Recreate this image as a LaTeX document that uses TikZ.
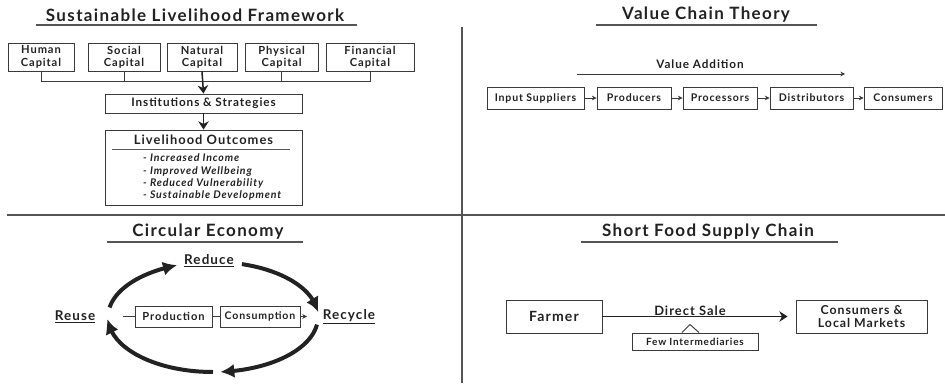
\documentclass[tikz,border=0pt]{standalone}
\usepackage{fontspec}
\setmainfont{Lato}[LetterSpace=8]
\usetikzlibrary{arrows.meta, positioning, calc, bending}
\definecolor{frameInk}{HTML}{222222}
\definecolor{frameLine}{HTML}{3A3A3A}
\definecolor{frameRule}{HTML}{555555}

\begin{document}
\begin{tikzpicture}[
  >=Stealth,
  font=\fontsize{9}{10}\selectfont\bfseries,
  text=frameInk,
  box/.style={draw=frameLine, line width=0.8pt, align=center, inner sep=1pt},
  connector/.style={draw=frameLine, line width=0.8pt},
  flow/.style={-{Stealth[length=7pt,width=9pt]}, draw=frameInk, line width=1.3pt},
  smallflow/.style={-{Stealth[length=4pt,width=4pt]}, draw=frameLine, line width=0.7pt},
  cycle/.style={-{Latex[length=0.42cm,width=0.42cm,bend]}, draw=frameInk, line width=3.4pt},
  heading/.style={font=\fontsize{14.5}{16}\selectfont\bfseries, text=frameInk},
  rule/.style={draw=frameRule, line width=1pt},
  divider/.style={draw=frameRule, line width=1.3pt}
]

  \fill[white] (0,0) rectangle (28.35,11.49);
  \useasboundingbox (0,0) rectangle (28.35,11.49);

  % quadrant dividers
  \draw[divider] (13.86,10.68) -- (13.86,0);
  \draw[divider] (0.21,5.04) -- (28.35,5.04);

  % headings
  \node[heading] (slfTitle) at (5.85,11.04) {Sustainable Livelihood Framework};
  \draw[rule] (1.08,10.74) -- (10.71,10.74);
  \node[heading] (vctTitle) at (21.18,11.04) {Value Chain Theory};
  \draw[rule] (17.88,10.74) -- (24.51,10.74);
  \node[heading] (ceTitle) at (6.24,4.53) {Circular Economy};
  \draw[rule] (3.21,4.23) -- (9.09,4.23);
  \node[heading] (sfscTitle) at (21.24,4.53) {Short Food Supply Chain};
  \draw[rule] (17.43,4.23) -- (25.14,4.23);

  % sustainable livelihood framework
  \tikzset{capbox/.style={box, font=\fontsize{9.5}{10.5}\selectfont\bfseries, minimum height=0.84cm}}
  \node[capbox, minimum width=1.98cm] (human) at (1.23,9.78) {Human\\Capital};
  \node[capbox, minimum width=2.16cm] (social) at (3.72,9.78) {Social\\Capital};
  \node[capbox, minimum width=2.10cm] (natural) at (6.06,9.78) {Natural\\Capital};
  \node[capbox, minimum width=2.19cm] (physical) at (8.45,9.78) {Physical\\Capital};
  \node[capbox, minimum width=2.64cm] (financial) at (11.10,9.78) {Financial\\Capital};

  \node[box, font=\fontsize{10}{12}\selectfont\bfseries, minimum width=5.91cm, minimum height=0.57cm]
    (institutions) at (6.105,8.385) {Institutions \& Strategies};
  \node[box, minimum width=5.91cm, minimum height=2.25cm] (outcomes) at (6.105,6.465) {};
  \node[font=\fontsize{11}{12}\selectfont\bfseries] (outHead) at (6.105,7.29) {Livelihood Outcomes};
  \draw[rule, line width=0.7pt] (3.36,7.02) -- (8.70,7.02);
  \node[anchor=north west, inner sep=0pt, align=left, font=\fontsize{9}{10.6}\selectfont\bfseries\itshape]
    (outList) at (4.29,6.88)
    {- Increased Income\\- Improved Wellbeing\\- Reduced Vulnerability\\- Sustainable Development};

  \coordinate (bus) at (6.06,9.06);
  \draw[connector] (human.south) |- (bus);
  \draw[connector] (financial.south) |- (bus);
  \draw[connector] (social.south) -- (social.south |- bus);
  \draw[connector] (physical.south) -- (physical.south |- bus);
  \draw[flow] (natural.south) -- (institutions.north);
  \draw[flow] (institutions.south) -- (outcomes.north);

  % value chain theory
  \node[box, minimum width=2.91cm, minimum height=0.66cm] (inputs) at (16.065,8.55) {Input Suppliers};
  \node[box, minimum width=2.22cm, minimum height=0.66cm] (producers) at (19.02,8.55) {Producers};
  \node[box, minimum width=2.22cm, minimum height=0.66cm] (processors) at (21.60,8.55) {Processors};
  \node[box, minimum width=2.49cm, minimum height=0.66cm] (distributors) at (24.345,8.55) {Distributors};
  \node[box, minimum width=2.34cm, minimum height=0.66cm] (consumers) at (27.09,8.55) {Consumers};

  \draw[smallflow] (inputs) -- (producers);
  \draw[smallflow] (producers) -- (processors);
  \draw[smallflow] (processors) -- (distributors);
  \draw[smallflow] (distributors) -- (consumers);

  \node[font=\fontsize{10}{12}\selectfont\bfseries] (valueAdd) at (21.0,9.57) {Value Addition};
  \coordinate (vaStart) at (17.31,9.27);
  \coordinate (vaEnd) at (25.35,9.27);
  \draw[smallflow] (vaStart) -- (vaEnd);

  % circular economy
  \coordinate (ce) at (6.39,1.98);
  \draw[cycle] ($(ce)+(170:3.15 and 1.65)$) arc[start angle=170, end angle=110, x radius=3.15, y radius=1.65];
  \draw[cycle] ($(ce)+(74:3.15 and 1.65)$) arc[start angle=74, end angle=5, x radius=3.15, y radius=1.65];
  \draw[cycle] ($(ce)+(-8:3.15 and 1.65)$) arc[start angle=-8, end angle=-86, x radius=3.15, y radius=1.65];
  \draw[cycle] ($(ce)+(-90:3.15 and 1.65)$) arc[start angle=-90, end angle=-178, x radius=3.15, y radius=1.65];

  \node[font=\fontsize{11.5}{13}\selectfont\bfseries] (reduce) at (6.27,3.66) {\underline{Reduce}};
  \node[font=\fontsize{11.5}{13}\selectfont\bfseries] (reuse) at (2.25,1.98) {\underline{Reuse}};
  \node[font=\fontsize{11.5}{13}\selectfont\bfseries] (recycle) at (10.47,1.98) {\underline{Recycle}};

  \node[box, font=\fontsize{9.5}{11}\selectfont\bfseries, minimum width=2.31cm, minimum height=0.63cm]
    (production) at (5.205,1.995) {Production};
  \node[box, minimum width=2.40cm, minimum height=0.63cm] (consumption) at (7.80,1.995) {Consumption};
  \coordinate (stubL) at (3.69,1.995);
  \coordinate (stubR) at (9.21,1.995);
  \draw[connector] (stubL) -- (production.west);
  \draw[connector] (production) -- (consumption);
  \draw[smallflow] (consumption.east) -- (stubR);

  % short food supply chain
  \node[box, font=\fontsize{12}{14}\selectfont\bfseries, minimum width=2.88cm, minimum height=0.99cm]
    (farmer) at (16.62,1.995) {Farmer};
  \node[box, font=\fontsize{10.5}{11.5}\selectfont\bfseries, minimum width=3.93cm, minimum height=0.99cm]
    (markets) at (25.845,1.995) {Consumers \&\\Local Markets};
  \draw[flow, line width=0.9pt, shorten >=0.24cm] (farmer) -- (markets);
  \node[font=\fontsize{11}{12}\selectfont\bfseries] (directSale) at (20.70,2.18) {Direct Sale};

  \node[box, font=\fontsize{8.5}{10}\selectfont\bfseries, minimum width=3.78cm, minimum height=0.51cm]
    (fewInter) at (20.85,1.245) {Few Intermediaries};
  \draw[connector] ($(fewInter.north)+(-0.39,0)$) -- ($(fewInter.north)+(-0.15,0.24)$)
    -- ($(fewInter.north)+(0.12,0)$);

\end{tikzpicture}
\end{document}
